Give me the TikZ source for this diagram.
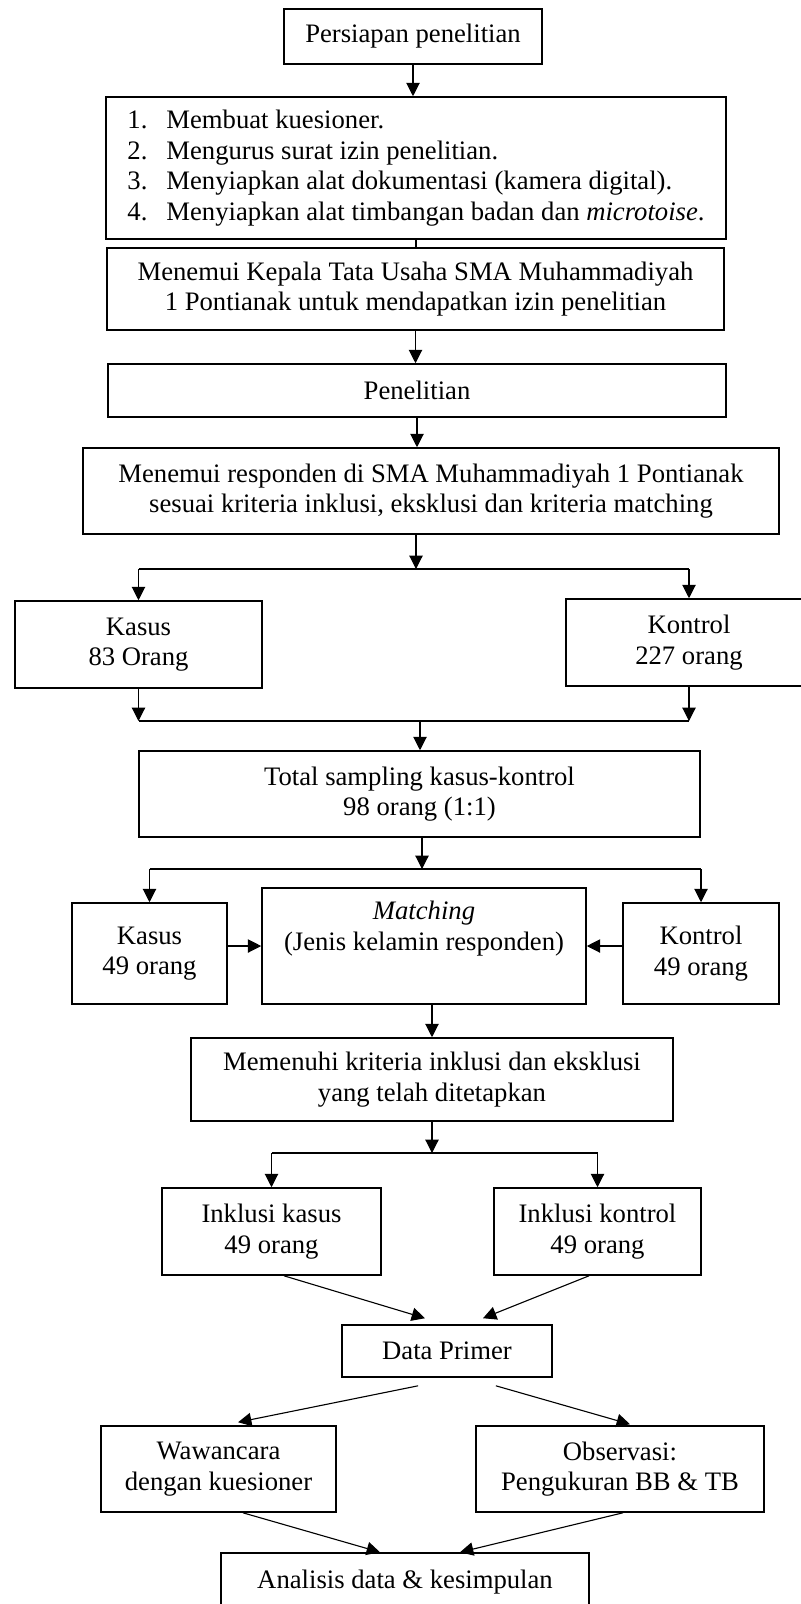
\documentclass[tikz,border=0pt]{standalone}
\usepackage{fontspec}
\setmainfont{Liberation Serif}
\usetikzlibrary{arrows.meta, calc}

\begin{document}
\begin{tikzpicture}[x=0.45pt, y=-0.45pt, >={Triangle[width=6pt,length=6pt]},
    box/.style={draw, line width=0.7pt, inner sep=0pt, align=center,
                font=\fontsize{12}{13.8}\selectfont},
    arr/.style={->, line width=0.5pt},
    link/.style={line width=0.5pt}]
    \useasboundingbox (0,0) rectangle (801,1604);
    \clip (0,0) rectangle (801,1604);
    % persiapan
    \node[box, minimum width=116.1pt, minimum height=24.75pt] (persiapan) at (413,36.5) {Persiapan penelitian};
    \node[box, minimum width=279pt, minimum height=63.9pt, align=left] (langkah) at (416,168)
        {\makebox[17.55pt][l]{1.}Membuat kuesioner.\\
         \makebox[17.55pt][l]{2.}Mengurus surat izin penelitian.\\
         \makebox[17.55pt][l]{3.}Menyiapkan alat dokumentasi (kamera digital).\\
         \makebox[17.55pt][l]{4.}Menyiapkan alat timbangan badan dan \textit{microtoise}.};
    \node[box, minimum width=277.65pt, minimum height=36.9pt] (kepala) at (415.5,289) {Menemui Kepala Tata Usaha SMA Muhammadiyah\\1 Pontianak untuk mendapatkan izin penelitian};
    % penelitian
    \node[box, minimum width=278.1pt, minimum height=23.85pt] (penelitian) at (417,390.5) {Penelitian};
    \node[box, minimum width=313.2pt, minimum height=38.7pt] (responden) at (431,491) {Menemui responden di SMA Muhammadiyah 1 Pontianak\\sesuai kriteria inklusi, eksklusi dan kriteria matching};
    \node[box, minimum width=111.15pt, minimum height=39.15pt] (kasusA) at (138.5,644.5) {Kasus\\83 Orang};
    \node[box, minimum width=110.7pt, minimum height=39.15pt] (kontrolA) at (689,642.5) {Kontrol\\227 orang};
    \node[box, minimum width=252.45pt, minimum height=38.7pt] (total) at (419.5,794) {Total sampling kasus-kontrol\\98 orang (1:1)};
    % matching
    \node[box, minimum width=69.75pt, minimum height=45.45pt] (kasusB) at (149.5,953.5) {Kasus\\49 orang};
    \node[box, minimum width=145.8pt, minimum height=52.2pt] (matching) at (424,946) {\textit{Matching}\\(Jenis kelamin responden)\\\strut};
    \node[box, minimum width=70.2pt, minimum height=45.45pt] (kontrolB) at (701,953.5) {Kontrol\\49 orang};
    \node[box, minimum width=216.9pt, minimum height=37.35pt] (memenuhi) at (432,1079.5) {Memenuhi kriteria inklusi dan eksklusi\\yang telah ditetapkan};
    \node[box, minimum width=98.55pt, minimum height=39.15pt] (inklA) at (271.5,1231.5) {Inklusi kasus\\49 orang};
    \node[box, minimum width=93.15pt, minimum height=39.15pt] (inklB) at (597.5,1231.5) {Inklusi kontrol\\49 orang};
    % data
    \node[box, minimum width=94.5pt, minimum height=23.4pt] (primer) at (447,1351) {Data Primer};
    \node[box, minimum width=105.75pt, minimum height=38.7pt] (wawancara) at (218.5,1469) {Wawancara\\dengan kuesioner};
    \node[box, minimum width=129.6pt, minimum height=38.7pt] (observasi) at (620,1469) {Observasi:\\Pengukuran BB \& TB};
    \node[box, minimum width=165.6pt, minimum height=26.1pt] (analisis) at (405,1582) {Analisis data \& kesimpulan};
    \coordinate (j1) at (416,569);
    \coordinate (j2) at (420,721);
    \coordinate (j3) at (422,869);
    \coordinate (j4) at (433,1153);
    % connectors
    \draw[arr] (persiapan.south) -- (persiapan.south |- langkah.north);
    \draw[link] (langkah.south) -- (langkah.south |- kepala.north);
    \draw[arr] (kepala.south) -- (kepala.south |- penelitian.north);
    \draw[arr] (penelitian.south) -- (penelitian.south |- responden.north);
    \draw[arr] (responden.south -| j1) -- (j1);
    \draw[link] (kasusA.north |- j1) -- (kontrolA.north |- j1);
    \draw[arr] (kasusA.north |- j1) -- (kasusA.north);
    \draw[arr] (kontrolA.north |- j1) -- (kontrolA.north);
    \draw[arr] (kasusA.south) -- (kasusA.south |- j2);
    \draw[arr] (kontrolA.south) -- (kontrolA.south |- j2);
    \draw[link] (kasusA.south |- j2) -- (kontrolA.south |- j2);
    \draw[arr] (j2) -- (j2 |- total.north);
    \draw[arr] (total.south -| j3) -- (j3);
    \draw[link] (kasusB.north |- j3) -- (kontrolB.north |- j3);
    \draw[arr] (kasusB.north |- j3) -- (kasusB.north);
    \draw[arr] (kontrolB.north |- j3) -- (kontrolB.north);
    \draw[arr] (kasusB.east |- matching) -- (matching.west);
    \draw[arr] (kontrolB.west |- matching) -- (matching.east);
    \draw[arr] (memenuhi.north |- matching.south) -- (memenuhi.north);
    \draw[arr] (memenuhi.south) -- (memenuhi.south |- j4);
    \draw[link] (inklA.north |- j4) -- (inklB.north |- j4);
    \draw[arr] (inklA.north |- j4) -- (inklA.north);
    \draw[arr] (inklB.north |- j4) -- (inklB.north);
    \draw[arr] ([xshift=5.6pt]inklA.south) -- ([xshift=-9.9pt,yshift=2.7pt]primer.north);
    \draw[arr] ([xshift=-3.8pt]inklB.south) -- ([xshift=16.2pt,yshift=2.7pt]primer.north);
    \draw[arr] ([xshift=-13pt,yshift=-3.6pt]primer.south) -- ([xshift=8.8pt,yshift=1.35pt]wawancara.north);
    \draw[arr] ([xshift=22pt,yshift=-3.6pt]primer.south) -- ([xshift=4.5pt,yshift=0.45pt]observasi.north);
    \draw[arr] ([xshift=11pt]wawancara.south) -- ([xshift=-11.25pt]analisis.north);
    \draw[arr] ([xshift=1.35pt]observasi.south) -- ([xshift=24.75pt]analisis.north);
\end{tikzpicture}
\end{document}
